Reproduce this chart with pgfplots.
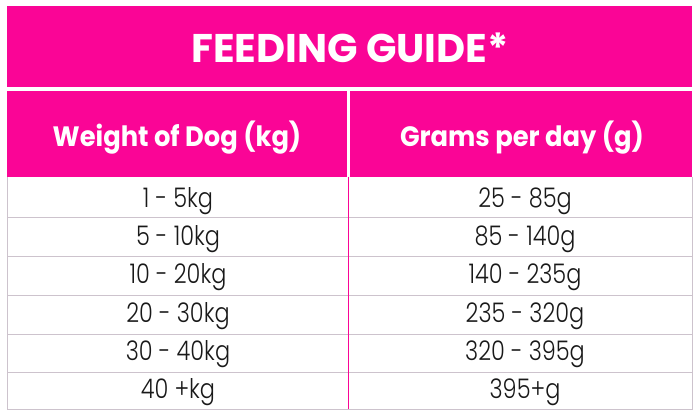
\documentclass[border=0pt]{standalone}
\usepackage{fontspec}
\setmainfont{Poppins}
\newfontfamily\bodyfont{Poppins}[UprightFont=* Light]
\usepackage{pgfplots}
\usepackage{pgfplotstable}
\pgfplotsset{compat=1.18}

\definecolor{hotpink}{RGB}{250,5,150}
\definecolor{rowline}{RGB}{205,195,205}
\definecolor{bodytext}{RGB}{25,25,25}

% cell labels: x = column centre, y = baseline (pixels from top)
\pgfplotstableread[col sep=comma]{
x,y,label
178,208,1 - 5kg
178,245,5 - 10kg
178,283,10 - 20kg
178,322,20 - 30kg
178,360,30 - 40kg
178,398,40 +kg
525,208,25 - 85g
525,245,85 - 140g
525,283,140 - 235g
525,322,235 - 320g
525,360,320 - 395g
525,398,395+g
}\bodycells

\pgfplotstableread[col sep=comma]{
x,y,label
177,147,Weight of Dog (kg)
522,147,Grams per day (g)
}\headcells

\pgfplotstableread[col sep=comma]{
x,y,label
350,63,FEEDING GUIDE*
}\titlecell

\begin{document}
\begin{tikzpicture}
\begin{axis}[
  width=700pt, height=419pt, scale only axis,
  xmin=0, xmax=700, ymin=0, ymax=419, y dir=reverse,
  hide axis, clip=false,
  cell/.style={only marks, mark=none, nodes near coords,
    point meta=explicit symbolic},
]
  % page background
  \addplot[fill=white, draw=none] coordinates {(0,0) (700,0) (700,419) (0,419)} -- cycle;
  % title band and header cells
  \addplot[fill=hotpink, draw=none] coordinates {(7,6) (692,6) (692,87) (7,87)} -- cycle;
  \addplot[fill=hotpink, draw=none] coordinates {(7,91) (347,91) (347,177) (7,177)} -- cycle;
  \addplot[fill=hotpink, draw=none] coordinates {(350,91) (692,91) (692,177) (350,177)} -- cycle;
  % row rules and outer border
  \addplot[rowline, line width=0.8pt] coordinates {(7,217) (692,217)};
  \addplot[rowline, line width=0.8pt] coordinates {(7,256) (692,256)};
  \addplot[rowline, line width=0.8pt] coordinates {(7,295) (692,295)};
  \addplot[rowline, line width=0.8pt] coordinates {(7,334) (692,334)};
  \addplot[rowline, line width=0.8pt] coordinates {(7,372) (692,372)};
  \addplot[rowline, line width=0.8pt] coordinates {(7,177) (7,409) (692,409) (692,177)};
  % pink column divider
  \addplot[hotpink, line width=1.6pt] coordinates {(348.5,177) (348.5,409)};
  % text
  \addplot[cell, every node near coord/.append style={anchor=base, text=white,
      font=\fontsize{40}{42}\selectfont\bfseries}]
    table[x=x, y=y, meta=label] {\titlecell};
  \addplot[cell, every node near coord/.append style={anchor=base, text=white,
      font=\fontsize{28}{30}\selectfont\bfseries},
      nodes near coords={\scalebox{0.92}[1]{\pgfplotspointmeta}}]
    table[x=x, y=y, meta=label] {\headcells};
  \addplot[cell, every node near coord/.append style={anchor=base, text=bodytext,
      font=\bodyfont\fontsize{27}{29}\selectfont},
      nodes near coords={\scalebox{0.83}[1]{\pgfplotspointmeta}}]
    table[x=x, y=y, meta=label] {\bodycells};
\end{axis}
\end{tikzpicture}
\end{document}
